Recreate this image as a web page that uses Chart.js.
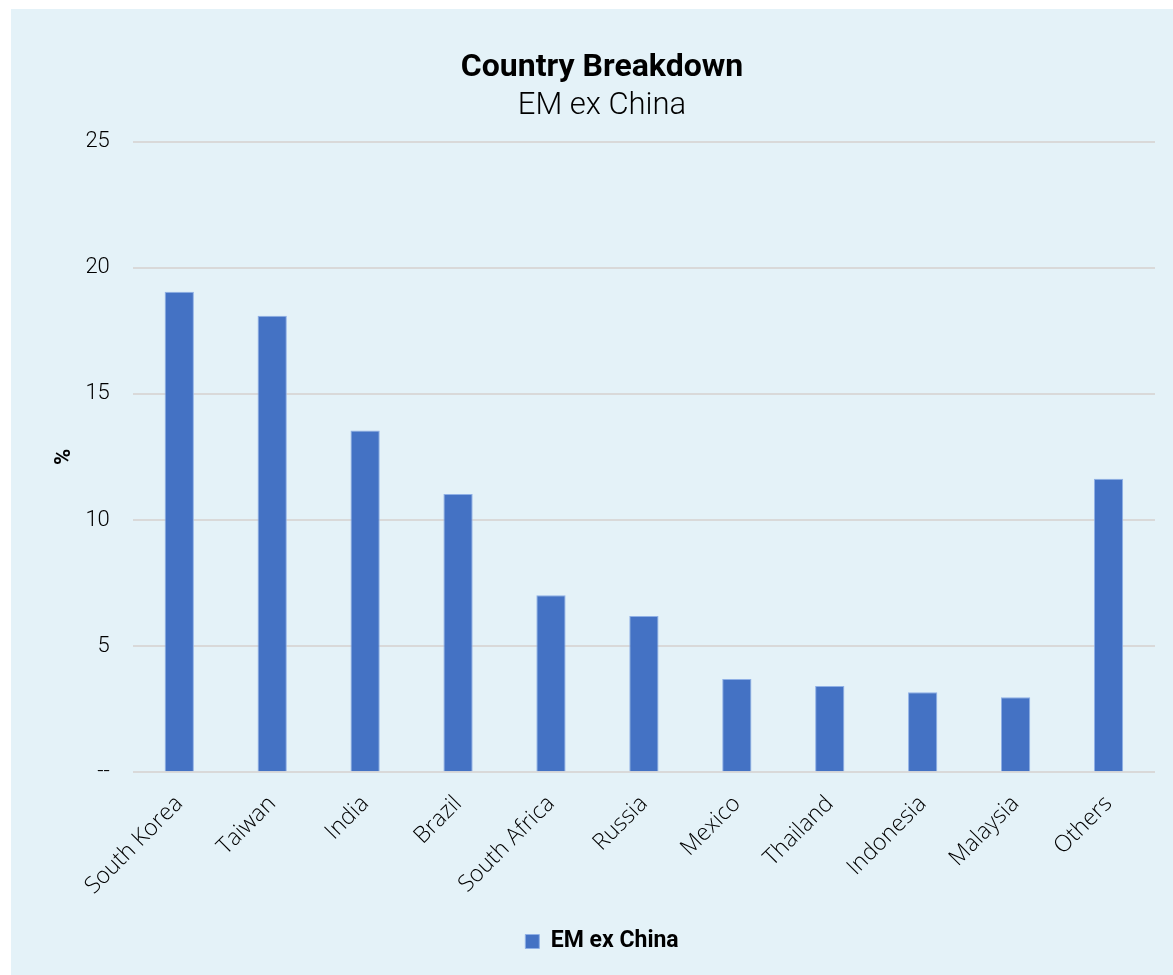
<!DOCTYPE html>
<html>
<head>
<meta charset="utf-8">
<script src="https://cdn.jsdelivr.net/npm/chart.js@4/dist/chart.umd.min.js"></script>
<style>
    body { margin: 0; background: #ffffff; }
    #wrap { position: absolute; left: 11px; top: 9px; width: 1162px; height: 966px; background: #e4f2f8; }
</style>
</head>
<body>
<div id="wrap"><canvas id="chart" width="1162" height="966"></canvas></div>
<script>
// 국가별 비중 (%)
var countries = ["South Korea", "Taiwan", "India", "Brazil", "South Africa", "Russia", "Mexico", "Thailand", "Indonesia", "Malaysia", "Others"];
var weights = [19.05, 18.1, 13.55, 11.03, 7.02, 6.2, 3.7, 3.42, 3.17, 2.98, 11.64];
var yTicks = [0, 5, 10, 15, 20, 25];
var seriesName = "EM ex China";

var ctx = document.getElementById("chart").getContext("2d");

var myChart = new Chart(ctx, {
    type: 'bar',
    data: {
        labels: countries,
        datasets: [{
            label: seriesName,
            data: weights,
            backgroundColor: '#4472C4',
            borderColor: '#8fb0e6',
            borderWidth: 1,
            barPercentage: 0.63,
            categoryPercentage: 0.5
        }]
    },
    options: {
        responsive: false,
        animation: false,
        layout: { padding: { left: 38, right: 18, top: 20, bottom: 12 } },
        plugins: {
            title: {
                display: true,
                text: 'Country Breakdown',
                color: '#000000',
                font: { family: 'Roboto', size: 32, weight: 'bold' },
                padding: { top: 20, bottom: 0 }
            },
            subtitle: {
                display: true,
                text: seriesName,
                color: '#000000',
                font: { family: 'Roboto', size: 31, weight: 300 },
                padding: { top: 0, bottom: 17 }
            },
            legend: {
                position: 'bottom',
                labels: {
                    color: '#000000',
                    boxWidth: 14,
                    boxHeight: 14,
                    padding: 10,
                    font: { family: 'Roboto', size: 23, weight: 'bold' }
                }
            },
            tooltip: { enabled: false }
        },
        scales: {
            x: {
                grid: { display: false },
                border: { display: false },
                afterFit: function(axis) {
                    axis.height += 10;
                },
                ticks: {
                    color: '#000000',
                    maxRotation: 45,
                    minRotation: 45,
                    padding: 10,
                    font: { family: 'Open Sans', size: 23, weight: 300 }
                }
            },
            y: {
                min: 0,
                max: 25,
                afterBuildTicks: function(axis) {
                    axis.ticks = yTicks.map(function(v){ return { value: v }; });
                },
                grid: { color: '#d9d9d9', lineWidth: 2, drawTicks: false },
                border: { display: false },
                title: {
                    display: true,
                    text: '%',
                    color: '#000000',
                    font: { family: 'Roboto', size: 22, weight: 'bold' },
                    padding: { top: 2, bottom: -15 }
                },
                ticks: {
                    color: '#000000',
                    padding: 23,
                    font: { family: 'Roboto', size: 22, weight: 300 },
                    callback: function(value) {
                        return value === 0 ? '--' : value;
                    }
                }
            }
        }
    }
});
</script>
</body>
</html>
